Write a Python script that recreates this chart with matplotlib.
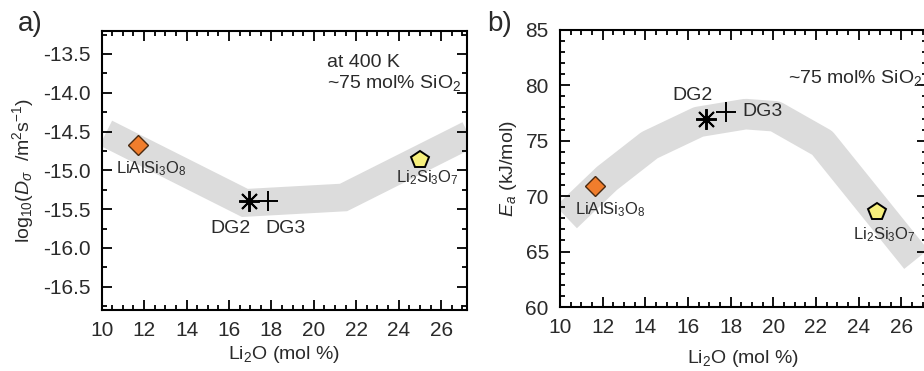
import matplotlib
matplotlib.use('Agg')
import matplotlib.pyplot as plt
from matplotlib.ticker import MultipleLocator

plt.rcParams['font.family'] = ['Liberation Sans', 'DejaVu Sans']
plt.rcParams['mathtext.fontset'] = 'custom'
plt.rcParams['mathtext.rm'] = 'Liberation Sans'
plt.rcParams['mathtext.it'] = 'Liberation Sans:italic'
plt.rcParams['axes.unicode_minus'] = False
plt.rcParams['text.color'] = '#2a2a2a'
plt.rcParams['xtick.labelcolor'] = '#2a2a2a'
plt.rcParams['ytick.labelcolor'] = '#2a2a2a'
plt.rcParams['axes.labelcolor'] = '#2a2a2a'

# --- data ---
# a) log10 diffusivity at 400 K
li2o_lialsi = 11.7
li2o_dg2 = 16.95
li2o_dg3 = 17.85
li2o_li2si = 25.0
logd_lialsi = -14.68
logd_dg2 = -15.39
logd_dg3 = -15.40
logd_li2si = -14.87

# b) activation energy
ea_lialsi = 70.9
ea_dg2 = 77.0
ea_dg3 = 77.6
ea_li2si = 68.6
li2o_b_lialsi = 11.65
li2o_b_dg2 = 16.85
li2o_b_dg3 = 17.8
li2o_b_li2si = 24.85

# guide-for-the-eye bands (centre lines)
band_a_x = [10.2, 16.75, 21.4, 27.3]
band_a_y = [-14.52, -15.42, -15.35, -14.54]
band_b_x = [10.3, 12.2, 14.2, 16.5, 18.7, 20.1, 22.3, 26.7]
band_b_y = [68.1, 71.6, 74.6, 76.7, 77.4, 77.2, 74.8, 64.3]

XLIM = (10, 27.2)
BAND_COLOR = '#dcdcdc'
ORANGE = '#f07d2c'
YELLOW = '#f6ef7c'


def style_axes(ax):
    ax.set_xlim(*XLIM)
    ax.xaxis.set_major_locator(MultipleLocator(2))
    ax.xaxis.set_minor_locator(MultipleLocator(0.5))
    ax.tick_params(which='both', direction='in', top=True, right=True,
                   labelsize=15, width=1.3)
    ax.tick_params(which='major', length=7, pad=8)
    ax.tick_params(which='minor', length=3.5)
    for s in ax.spines.values():
        s.set_linewidth(1.5)
    ax.set_xlabel('Li$_2$O (mol %)', fontsize=14, labelpad=3)


fig = plt.figure(figsize=(9.24, 3.71), dpi=100)

# ---------------- a) ----------------
ax1 = fig.add_axes([0.110, 0.1644, 0.395, 0.753])
ax1.plot(band_a_x, band_a_y, color=BAND_COLOR, lw=20, solid_capstyle='butt',
         solid_joinstyle='miter', zorder=1)
ax1.plot(li2o_lialsi, logd_lialsi, marker='D', ms=10, mfc=ORANGE, mec='#4a2a10',
         mew=1.0, ls='none', zorder=3)
ax1.plot(li2o_dg2, logd_dg2, marker=(8, 2, 0), ms=15, color='k', mew=1.4,
         ls='none', zorder=3)
ax1.plot(li2o_dg3, logd_dg3, marker='+', ms=15, color='k', mew=1.4,
         ls='none', zorder=3)
ax1.plot(li2o_li2si, logd_li2si, marker='p', ms=13, mfc=YELLOW, mec='k',
         mew=1.4, ls='none', zorder=3)

ax1.text(12.35, -14.98, 'LiAlSi$_3$O$_8$', fontsize=12, ha='center', va='center')
ax1.text(16.05, -15.75, 'DG2', fontsize=14, ha='center', va='center')
ax1.text(18.65, -15.75, 'DG3', fontsize=14, ha='center', va='center')
ax1.text(25.35, -15.1, 'Li$_2$Si$_3$O$_7$', fontsize=12, ha='center', va='center')
ax1.text(20.6, -13.61, 'at 400 K', fontsize=14, ha='left', va='center')
ax1.text(20.6, -13.88, '~75 mol% SiO$_2$', fontsize=14, ha='left', va='center')

ax1.set_ylim(-16.8, -13.2)
ax1.yaxis.set_major_locator(MultipleLocator(0.5))
ax1.yaxis.set_minor_locator(MultipleLocator(0.25))
style_axes(ax1)
ax1.set_ylabel(r'log$_{10}$($D_{\sigma}$  /m$^2$s$^{-1}$)', fontsize=14, labelpad=5)
fig.text(0.019, 0.935, 'a)', fontsize=20, ha='left', va='center')

# ---------------- b) ----------------
ax2 = fig.add_axes([0.606, 0.1725, 0.397, 0.747])
ax2.plot(band_b_x, band_b_y, color=BAND_COLOR, lw=22, solid_capstyle='butt',
         solid_joinstyle='round', zorder=1)
ax2.plot(li2o_b_lialsi, ea_lialsi, marker='D', ms=10, mfc=ORANGE, mec='#4a2a10',
         mew=1.0, ls='none', zorder=3)
ax2.plot(li2o_b_dg2, ea_dg2, marker=(8, 2, 0), ms=15, color='k', mew=1.4,
         ls='none', zorder=3)
ax2.plot(li2o_b_dg3, ea_dg3, marker='+', ms=15, color='k', mew=1.4,
         ls='none', zorder=3)
ax2.plot(li2o_b_li2si, ea_li2si, marker='p', ms=13, mfc=YELLOW, mec='k',
         mew=1.4, ls='none', zorder=3)

ax2.text(12.35, 68.75, 'LiAlSi$_3$O$_8$', fontsize=12, ha='center', va='center')
ax2.text(16.2, 79.1, 'DG2', fontsize=14, ha='center', va='center')
ax2.text(18.55, 77.6, 'DG3', fontsize=14, ha='left', va='center')
ax2.text(25.2, 66.5, 'Li$_2$Si$_3$O$_7$', fontsize=12, ha='center', va='center')
ax2.text(20.7, 80.7, '~75 mol% SiO$_2$', fontsize=14, ha='left', va='center')

ax2.set_ylim(60, 85)
ax2.yaxis.set_major_locator(MultipleLocator(5))
ax2.yaxis.set_minor_locator(MultipleLocator(1))
style_axes(ax2)
ax2.set_ylabel('$E_a$ (kJ/mol)', fontsize=14, labelpad=5)
ax2.xaxis.labelpad = 8
fig.text(0.527, 0.935, 'b)', fontsize=20, ha='left', va='center')

fig.savefig('out.png', dpi=100)
